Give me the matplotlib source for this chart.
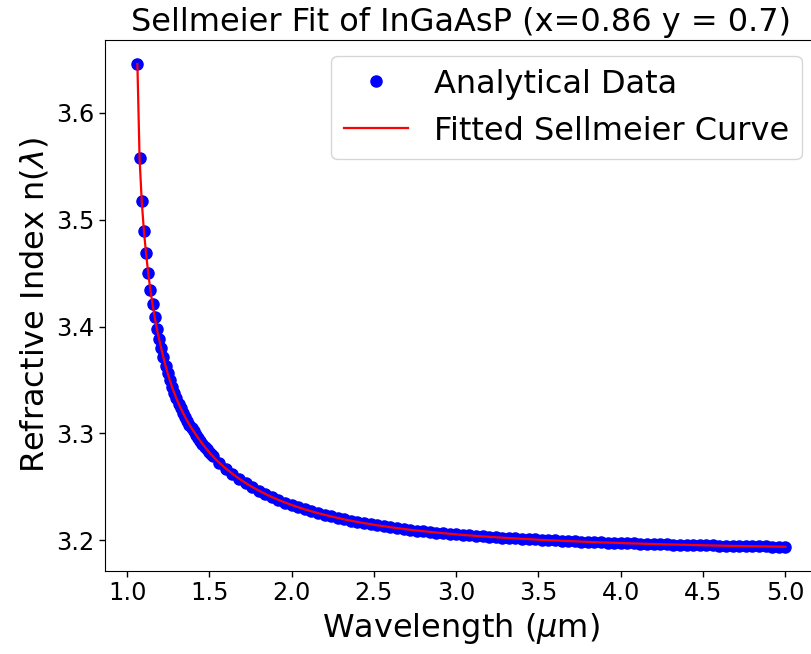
import matplotlib
matplotlib.use("Agg")
import matplotlib.pyplot as plt

# Wavelength samples (um): fine grid near the band edge, coarser in the flat tail
wavelength_edge = [
    1.0626, 1.0758, 1.0889, 1.1021, 1.1153, 1.1285, 1.1416, 1.1548, 1.1680, 1.1811,
    1.1943, 1.2075, 1.2206, 1.2338, 1.2470, 1.2602, 1.2733, 1.2865, 1.2997, 1.3128,
    1.3260, 1.3392, 1.3523, 1.3655, 1.3787, 1.3919, 1.4050, 1.4182, 1.4314, 1.4445,
    1.4577, 1.4709, 1.4840, 1.4972, 1.5104,
]
index_edge = [
    3.6457, 3.5574, 3.5174, 3.4896, 3.4684, 3.4497, 3.4341, 3.4207, 3.4085, 3.3976,
    3.3885, 3.3795, 3.3711, 3.3633, 3.3561, 3.3495, 3.3434, 3.3378, 3.3327, 3.3279,
    3.3235, 3.3193, 3.3154, 3.3117, 3.3082, 3.3049, 3.3018, 3.2988, 3.2958, 3.2930,
    3.2903, 3.2877, 3.2852, 3.2827, 3.2803,
]

wavelength_tail = [
    1.52, 1.56, 1.60, 1.64, 1.68, 1.72, 1.76, 1.80, 1.84, 1.88,
    1.92, 1.96, 2.00, 2.04, 2.08, 2.12, 2.16, 2.20, 2.24, 2.28,
    2.32, 2.36, 2.40, 2.44, 2.48, 2.52, 2.56, 2.60, 2.64, 2.68,
    2.72, 2.76, 2.80, 2.84, 2.88, 2.92, 2.96, 3.00, 3.04, 3.08,
    3.12, 3.16, 3.20, 3.24, 3.28, 3.32, 3.36, 3.40, 3.44, 3.48,
    3.52, 3.56, 3.60, 3.64, 3.68, 3.72, 3.76, 3.80, 3.84, 3.88,
    3.92, 3.96, 4.00, 4.04, 4.08, 4.12, 4.16, 4.20, 4.24, 4.28,
    4.32, 4.36, 4.40, 4.44, 4.48, 4.52, 4.56, 4.60, 4.64, 4.68,
    4.72, 4.76, 4.80, 4.84, 4.88, 4.92, 4.96, 5.00,
]
index_tail = [
    3.2786, 3.2725, 3.2671, 3.2622, 3.2577, 3.2536, 3.2499, 3.2465, 3.2433, 3.2404,
    3.2378, 3.2353, 3.2330, 3.2309, 3.2289, 3.2271, 3.2254, 3.2238, 3.2223, 3.2209,
    3.2195, 3.2183, 3.2171, 3.2160, 3.2150, 3.2140, 3.2131, 3.2122, 3.2114, 3.2106,
    3.2098, 3.2091, 3.2085, 3.2078, 3.2072, 3.2066, 3.2061, 3.2055, 3.2050, 3.2045,
    3.2041, 3.2036, 3.2032, 3.2028, 3.2024, 3.2020, 3.2017, 3.2013, 3.2010, 3.2007,
    3.2003, 3.2000, 3.1998, 3.1995, 3.1992, 3.1990, 3.1987, 3.1985, 3.1982, 3.1980,
    3.1978, 3.1976, 3.1974, 3.1972, 3.1970, 3.1968, 3.1966, 3.1965, 3.1963, 3.1961,
    3.1960, 3.1958, 3.1957, 3.1955, 3.1954, 3.1952, 3.1951, 3.1950, 3.1948, 3.1947,
    3.1946, 3.1945, 3.1944, 3.1943, 3.1942, 3.1941, 3.1940, 3.1939,
]

wavelength = wavelength_edge + wavelength_tail
n_data = index_edge + index_tail
n_fit = index_edge + index_tail

title = "Sellmeier Fit of InGaAsP (x=0.86 y = 0.7)"

W, H = 812, 654
fig = plt.figure(figsize=(W / 100, H / 100), dpi=100)
ax = fig.add_axes([105.0 / W, (H - 570.9) / H, 712.7 / W, (570.9 - 39.8) / H])

ax.plot(wavelength, n_data, "o", color="blue", markersize=8, label="Analytical Data")
ax.plot(wavelength, n_fit, "-", color="red", linewidth=1.6, label="Fitted Sellmeier Curve")

ax.set_xticks([1.0, 1.5, 2.0, 2.5, 3.0, 3.5, 4.0, 4.5, 5.0])
ax.set_yticks([3.2, 3.3, 3.4, 3.5, 3.6])
ax.tick_params(labelsize=17.3, length=4, width=1)

ax.set_xlabel(r"Wavelength ($\mu$m)", fontsize=23)
ax.set_ylabel(r"Refractive Index n($\lambda$)", fontsize=23)
ax.set_title(title, fontsize=23)
ax.legend(loc="upper right", fontsize=23)

fig.savefig("out.png", dpi=100)
